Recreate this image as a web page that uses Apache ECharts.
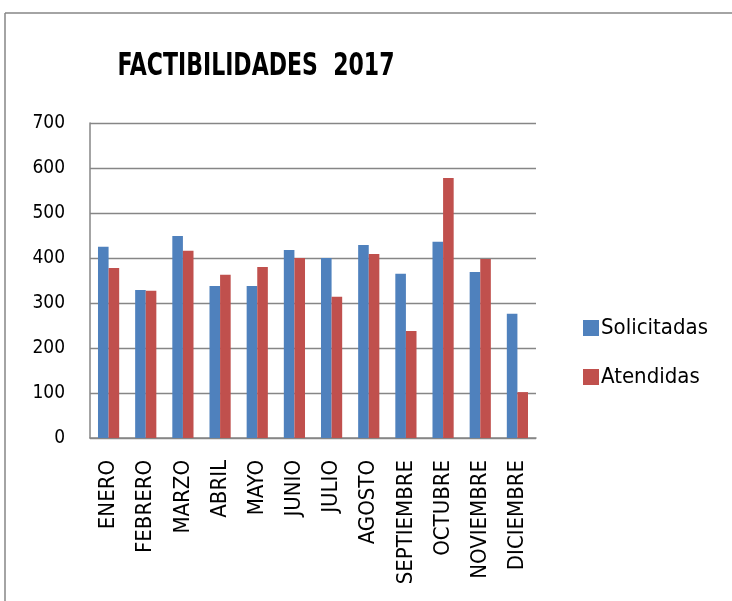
<!DOCTYPE html>
<html><head><meta charset="utf-8">
<script src="https://cdn.jsdelivr.net/npm/echarts@6/dist/echarts.min.js"></script>
<style>html,body{margin:0;padding:0;background:#fff}#c{width:732px;height:601px}</style>
</head><body><div id="c"></div>
<script>
var titleText = 'FACTIBILIDADES  2017';
var months = ['ENERO','FEBRERO','MARZO','ABRIL','MAYO','JUNIO','JULIO','AGOSTO','SEPTIEMBRE','OCTUBRE','NOVIEMBRE','DICIEMBRE'];
var solicitadas = [425, 329, 449, 338, 338, 418, 400, 429, 365, 436, 369, 276];
var atendidas = [378, 327, 416, 363, 380, 400, 314, 409, 238, 578, 398, 102];
var FONT = '"DejaVu Sans Condensed", "Liberation Sans", sans-serif';
var chart = echarts.init(document.getElementById('c'));
chart.setOption({
  animation: false,
  backgroundColor: '#fff',
  legend: { orient: 'vertical', left: 578, top: 312, itemGap: 27, itemWidth: 16, itemHeight: 16,
    icon: 'rect', textStyle: { fontFamily: FONT, fontSize: 22, color: '#000', padding: [0,0,0,-3] },
    data: ['Solicitadas', 'Atendidas'] },
  grid: { left: 90, top: 123, width: 446, height: 315, containLabel: false },
  xAxis: { type: 'category', data: months,
    axisLine: { lineStyle: { color: '#868686', width: 1.5 } },
    axisTick: { show: false },
    axisLabel: { rotate: 90, margin: 22, interval: 0, fontFamily: FONT, fontSize: 22, color: '#000' } },
  yAxis: { type: 'value', min: 0, max: 700, interval: 100,
    axisLine: { show: true, lineStyle: { color: '#868686', width: 1.5 } },
    axisTick: { show: false },
    splitLine: { lineStyle: { color: '#868686', width: 1.4 } },
    axisLabel: { margin: 25, fontFamily: FONT, fontSize: 19, color: '#000' } },
  series: [
    { name: 'Solicitadas', type: 'bar', data: solicitadas, itemStyle: { color: '#4F81BD' },
      barGap: '0%', barCategoryGap: '43%' },
    { name: 'Atendidas', type: 'bar', data: atendidas, itemStyle: { color: '#C0504D' } }
  ],
  graphic: [
    { type: 'text', x: 256, y: 67, scaleX: 0.765, originX: 0, originY: 0,
      style: { text: titleText, font: 'bold 32px "DejaVu Sans Condensed", sans-serif', fill: '#000',
        textAlign: 'center', textVerticalAlign: 'middle', align: 'center', verticalAlign: 'middle' } },
    { type: 'line', shape: { x1: 5, y1: 13, x2: 732, y2: 13 }, style: { stroke: '#868686', lineWidth: 1.5 } },
    { type: 'line', shape: { x1: 5, y1: 13, x2: 5, y2: 601 }, style: { stroke: '#868686', lineWidth: 1.5 } }
  ]
});
</script></body></html>
